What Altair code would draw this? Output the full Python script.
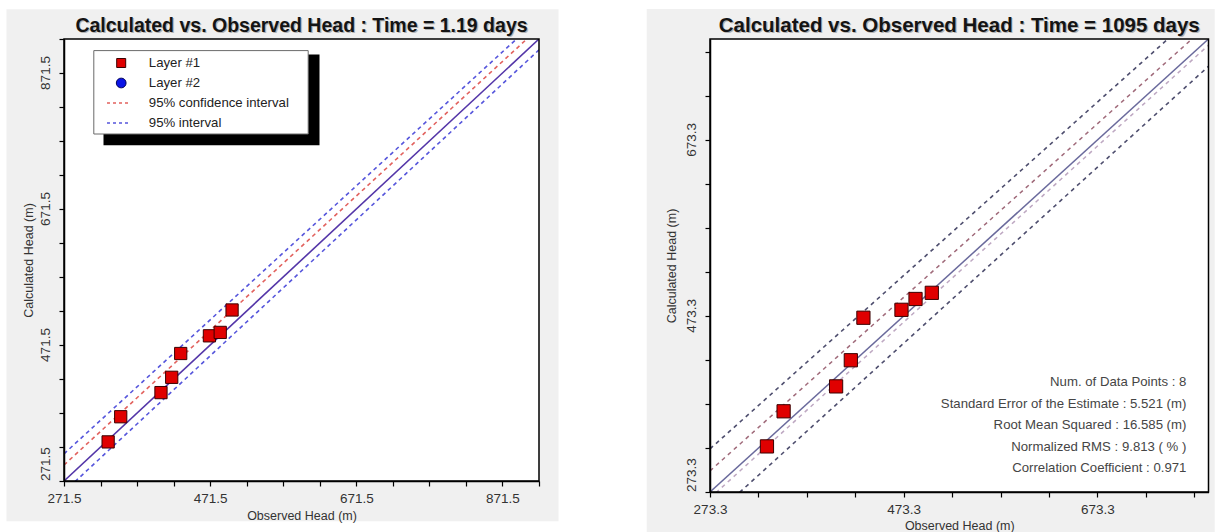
import json
import altair as alt
import pandas as pd

# ---------------- data ----------------
# left panel : Time = 1.19 days
obs_t1 = [331.9, 349.1, 404.2, 418.9, 431.2, 470.5, 485.3, 501.5]
calc_t1 = [329.0, 366.0, 401.5, 424.0, 459.0, 485.0, 490.0, 523.0]
# right panel : Time = 1095 days
obs_t2 = [332.1, 349.3, 403.5, 418.7, 431.7, 471.0, 485.5, 502.3]
calc_t2 = [325.1, 365.0, 393.3, 423.0, 471.3, 480.3, 492.6, 499.6]

t1_domain = [271.5, 921.5]
t1_ticks = [271.5, 321.5, 371.5, 421.5, 471.5, 521.5, 571.5, 621.5,
            671.5, 721.5, 771.5, 821.5, 871.5, 921.5]
t1_labels = [271.5, 471.5, 671.5, 871.5]

t2_domain = [273.3, 788.0]
t2_ticks = [273.3, 323.3, 373.3, 423.3, 473.3, 523.3, 573.3, 623.3,
            673.3, 723.3, 773.3]
t2_labels = [273.3, 473.3, 673.3]

# reference lines: (value at x start, value at x end)
t1_one_to_one = [271.5, 921.5]
t1_conf_upper = [295.0, 937.9]
t1_int_upper = [311.5, 951.8]
t1_int_lower = [255.5, 905.5]

t2_one_to_one = [273.3, 788.0]
t2_int_upper = [322.3, 829.3]
t2_conf_upper = [297.3, 804.8]
t2_conf_lower = [266.3, 781.0]
t2_int_lower = [242.3, 757.0]

titles = ["Calculated vs. Observed Head : Time = 1.19 days",
          "Calculated vs. Observed Head : Time = 1095 days"]
legend_labels = ["Layer #1", "Layer #2", "95% confidence interval", "95% interval"]
stat_names = ["Num. of Data Points", "Standard Error of the Estimate",
              "Root Mean Squared", "Normalized RMS", "Correlation Coefficient"]
stat_values = ["8", "5.521 (m)", "16.585 (m)", "9.813 ( % )", "0.971"]

# ---------------- styling ----------------
FONT = "Liberation Sans, Arial, Helvetica, sans-serif"
PANEL_BG = "#f0f0f0"
RED = "#e00000"
one = pd.DataFrame({"k": [0]})


def vrect(x0, x1, y0, y1, **kw):
    return alt.Chart(one).mark_rect(**kw).encode(
        x=alt.value(x0), x2=alt.value(x1), y=alt.value(y0), y2=alt.value(y1))


def vtext(txt, x, y, **kw):
    return alt.Chart(one).mark_text(text=txt, **kw).encode(
        x=alt.value(x), y=alt.value(y))


def panel(title, tsize, obs, calc, domain, ticks, labels, lines, w, h, bg, sq_size,
          ytitle_pad, xtitle_pad, extras):
    sx = alt.Scale(domain=domain, nice=False, zero=False)
    sy = alt.Scale(domain=domain, nice=False, zero=False)
    label_expr = ("indexof(%s, datum.value) >= 0 ? format(datum.value, '.1f') : ''"
                  % json.dumps(labels))
    ax_x = alt.Axis(values=ticks, labelExpr=label_expr, zindex=1,
                    title="Observed Head (m)", titlePadding=xtitle_pad)
    ax_y = alt.Axis(values=ticks, labels=False, zindex=1,
                    title="Calculated Head (m)", titlePadding=ytitle_pad)
    layers = [vrect(bg[0], bg[1], bg[2], bg[3], color=PANEL_BG),
              vrect(0, w, 0, h, color="white")]
    for (ys, color, dash, lw) in lines:
        df = pd.DataFrame({"obs": domain, "calc": ys})
        kw = dict(color=color, strokeWidth=lw, clip=True)
        if dash:
            kw["strokeDash"] = dash
        layers.append(alt.Chart(df).mark_line(**kw).encode(
            x=alt.X("obs:Q", scale=sx, axis=ax_x),
            y=alt.Y("calc:Q", scale=sy, axis=ax_y)))
    pts = alt.Chart(pd.DataFrame({"obs": obs, "calc": calc})).mark_square(
        size=sq_size, filled=True, fill=RED, stroke="#3a0000", strokeWidth=1,
        opacity=1).encode(
        x=alt.X("obs:Q", scale=sx, axis=ax_x),
        y=alt.Y("calc:Q", scale=sy, axis=ax_y))
    layers.append(pts)
    ylab_df = pd.DataFrame({"calc": labels})
    common = dict(angle=270, font=FONT, fontSize=13.5, color="#333333", baseline="bottom")
    layers.append(alt.Chart(ylab_df).transform_filter(
        alt.datum.calc > domain[0]).mark_text(align="center", **common).encode(
        y=alt.Y("calc:Q", scale=sy, axis=ax_y), x=alt.value(-11),
        text=alt.Text("calc:Q", format=".1f")))
    layers.append(alt.Chart(ylab_df).transform_filter(
        alt.datum.calc <= domain[0]).mark_text(align="left", **common).encode(
        y=alt.Y("calc:Q", scale=sy, axis=ax_y), x=alt.value(-11),
        text=alt.Text("calc:Q", format=".1f")))
    layers.append(vrect(0, w, 0, h, fillOpacity=0, stroke="black", strokeWidth=1.5))
    # title with a soft shadow
    layers.append(vtext(title, w / 2 + 1.2, -5.8, font=FONT, fontSize=tsize,
                        fontWeight="bold", color="#9a9a9a", opacity=0.7,
                        align="center", baseline="alphabetic"))
    layers.append(vtext(title, w / 2, -7, font=FONT, fontSize=tsize,
                        fontWeight="bold", color="#141414",
                        align="center", baseline="alphabetic"))
    layers.extend(extras)
    return alt.layer(*layers).properties(width=w, height=h)


# ---------------- left panel ----------------
W1, H1 = 475, 442
left_lines = [
    (t1_int_upper, "#5656dc", [4, 3.5], 1.6),
    (t1_conf_upper, "#e2625e", [4, 3.5], 1.6),
    (t1_one_to_one, "#5436a8", None, 1.6),
    (t1_int_lower, "#5656dc", [4, 3.5], 1.6),
]
legend = [
    vrect(39.5, 255.5, 15.6, 106.3, color="black"),
    vrect(29.8, 244.2, 11.6, 95.0, fill="white", stroke="#6a6a6a", strokeWidth=1),
    alt.Chart(one).mark_square(size=81, filled=True, fill=RED, stroke="#3a0000",
                               strokeWidth=1, opacity=1).encode(
        x=alt.value(57.2), y=alt.value(24)),
    alt.Chart(one).mark_point(shape="circle", size=95, filled=True, fill="#0a14e6",
                              stroke="#00005a", strokeWidth=1, opacity=1).encode(
        x=alt.value(57.2), y=alt.value(44)),
    alt.Chart(one).mark_rule(color="#e2625e", strokeWidth=1.5, strokeDash=[3, 3]).encode(
        x=alt.value(43), x2=alt.value(67), y=alt.value(64)),
    alt.Chart(one).mark_rule(color="#5656dc", strokeWidth=1.5, strokeDash=[3, 3]).encode(
        x=alt.value(43), x2=alt.value(67), y=alt.value(84)),
]
for i, lab in enumerate(legend_labels):
    legend.append(vtext(lab, 84.8, 24 + 20 * i, font=FONT, fontSize=13.2,
                        color="#222222", align="left", baseline="middle"))

left = panel(titles[0], 19.5, obs_t1, calc_t1, t1_domain, t1_ticks, t1_labels,
             left_lines, W1, H1, (-57.5, W1 + 19.5, -29.7, H1 + 40.3), 150,
             23, 5, legend)

# ---------------- right panel ----------------
W2, H2 = 498.5, 453
right_lines = [
    (t2_int_upper, "#4e4e6e", [4, 4], 1.6),
    (t2_conf_upper, "#a06a7a", [4, 4], 1.5),
    (t2_one_to_one, "#6a6a9c", None, 1.5),
    (t2_conf_lower, "#bea8c2", [4, 4], 1.5),
    (t2_int_lower, "#4e4e6e", [4, 4], 1.6),
]
stats = []
for i, (n, v) in enumerate(zip(stat_names, stat_values)):
    stats.append(vtext(f"{n} : {v}", 476.4, 343 + 21.5 * i, font=FONT,
                       fontSize=13.2, color="#454545", align="right",
                       baseline="middle"))

right = panel(titles[1], 20.5, obs_t2, calc_t2, t2_domain, t2_ticks, t2_labels,
              right_lines, W2, H2, (-63.3, W2 + 6.2, -30.0, H2 + 41.0), 175,
              26, 3.5, stats)

chart = alt.hconcat(left, right, spacing=87).properties(
    padding={"left": 6, "top": 8, "right": 0, "bottom": 0},
    background="white",
).configure_view(stroke="transparent").configure_axis(
    domainColor="#000000", domainWidth=1.5, tickColor="#000000", tickWidth=1.2,
    tickSize=5, grid=False, labelFont=FONT, labelFontSize=13.5,
    labelColor="#333333", labelPadding=5, labelFlush=False, labelOverlap=False,
    titleFont=FONT, titleFontSize=12.5, titleFontWeight="normal",
    titleColor="#333333")

chart.save("out.html", embed_options={"renderer": "svg", "actions": False})
